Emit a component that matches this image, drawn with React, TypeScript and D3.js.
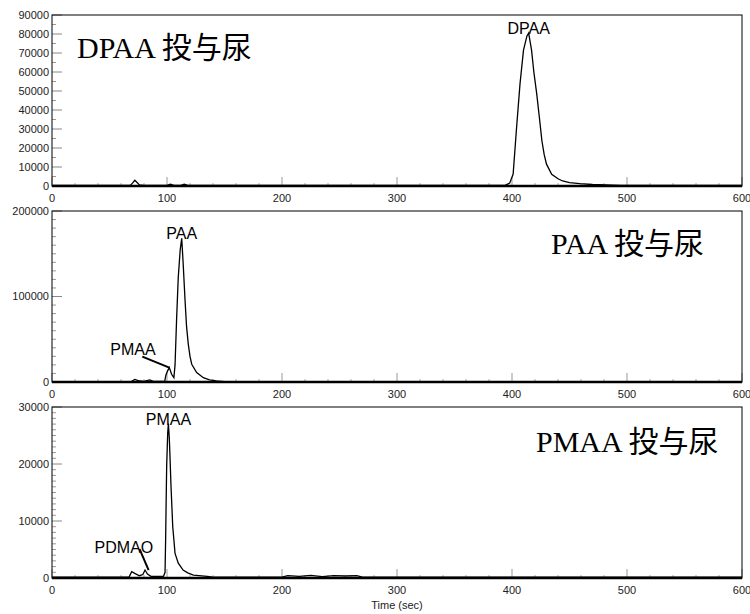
import React from 'react';
import * as d3 from 'd3';

// chromatogram traces: [time (sec), signal]
const dpaaUrine: [number, number][] = [
  [0, 300], [68, 300], [70, 1500], [72, 3000], [74, 1800], [76, 600], [80, 300],
  [100, 300], [103, 900], [106, 300], [112, 300], [115, 1000], [118, 300],
  [394, 300], [398, 1500], [401, 6300], [404, 30900], [407, 54000], [410, 71500],
  [413, 79000], [414.5, 80500], [417, 71500], [419, 60000], [421.5, 48500],
  [424, 35000], [426, 23800], [428, 16500], [430, 11500], [434.5, 6200],
  [440, 3800], [444, 2650], [450, 1800], [459, 1200], [470, 800], [488, 500],
  [495, 300], [600, 300],
];

const paaUrine: [number, number][] = [
  [0, 500], [69, 500], [72, 3000], [75, 1500], [80, 800], [85, 2500], [88, 800],
  [98, 800], [99, 8000], [100.5, 13000], [102, 16800], [104, 9000], [106, 5000],
  [107, 20000], [108.4, 75600], [109.8, 122600], [111.5, 155000], [112.8, 168000],
  [114, 140000], [115.7, 95300], [117, 65000], [118.5, 44300], [120, 30000],
  [121.5, 20800], [125.8, 11000], [131.6, 5000], [137, 2500], [143, 1200],
  [150, 500], [600, 500],
];

const pmaaUrine: [number, number][] = [
  [0, 150], [67, 150], [69.3, 1100], [72, 800], [76, 400], [79, 600], [80.9, 1400],
  [83, 700], [86, 300], [97, 300], [98.3, 1000], [98.8, 6700], [99.7, 19500],
  [100.6, 25400], [101.2, 27100], [102, 24500], [102.6, 21300], [103.5, 16000],
  [105, 9000], [107, 4300], [109.8, 2600], [114, 1400], [118, 900], [123, 520],
  [135, 300], [140, 150], [200, 150], [205, 400], [215, 300], [225, 450],
  [235, 250], [245, 400], [255, 350], [265, 400], [270, 150], [600, 150],
];

const xTicks = [0, 100, 200, 300, 400, 500, 600];
const panelTitles = ['DPAA 投与尿', 'PAA 投与尿', 'PMAA 投与尿'];
const yMaxes = [90000, 200000, 30000];
const yMajorSteps = [10000, 100000, 10000];
const yMinorSteps = [5000, 10000, 1000];

// peak labels: [panel, label, time of the marked point]
const peakLabels: [number, string, number][] = [
  [0, 'DPAA', 414.5],
  [1, 'PAA', 112.8],
  [2, 'PMAA', 101.2],
];
// labels with leader lines: [panel, label, time, value]
const leaderLabels: [number, string, number, number][] = [
  [1, 'PMAA', 102, 16800],
  [2, 'PDMAO', 84, 1400],
];

const traces = [dpaaUrine, paaUrine, pmaaUrine];

const W = 750;
const H = 614;
const left = 52;
const right = 742;
const panelTops = [15, 211, 407];
const panelH = 171;

const tickFont = '"Liberation Sans", Arial, sans-serif';
const titleFont = '"Liberation Serif", "Times New Roman", "Noto Sans CJK JP", serif';

function Panel({ idx }: { idx: number }) {
  const top = panelTops[idx];
  const bottom = top + panelH;
  const x = d3.scaleLinear().domain([0, 600]).range([left, right]);
  const y = d3.scaleLinear().domain([0, yMaxes[idx]]).range([bottom, top]);
  const line = d3.line<[number, number]>().x(d => x(d[0])).y(d => y(d[1]));

  const yMajor = d3.range(0, yMaxes[idx] + 1, yMajorSteps[idx]);
  const yMinor = d3.range(0, yMaxes[idx] + 1, yMinorSteps[idx]).filter(v => !yMajor.includes(v));
  const xMinor = d3.range(0, 601, 20).filter(v => !xTicks.includes(v));

  const titleX = idx === 0 ? 77 : idx === 1 ? 551 : 536;
  const titleY = idx === 0 ? 58 : idx === 1 ? 254 : 452;

  return (
    <g>
      {yMinor.map(v => (
        <line key={'ym' + v} x1={left} x2={left + 4} y1={y(v)} y2={y(v)} stroke="#999" strokeWidth={1} />
      ))}
      {yMajor.map(v => (
        <g key={'yM' + v}>
          <line x1={left} x2={left + 10} y1={y(v)} y2={y(v)} stroke="#888" strokeWidth={1} />
          <text x={left - 3} y={y(v)} dy="0.35em" textAnchor="end" fontFamily={tickFont} fontSize={11} fill="#222">
            {v}
          </text>
        </g>
      ))}
      {xMinor.map(v => (
        <line key={'xm' + v} x1={x(v)} x2={x(v)} y1={bottom} y2={bottom - 3} stroke="#aaa" strokeWidth={1} />
      ))}
      {xTicks.map(v => (
        <g key={'xM' + v}>
          <line x1={x(v)} x2={x(v)} y1={bottom} y2={bottom - 9} stroke="#999" strokeWidth={1} />
          <text x={x(v)} y={bottom + 16} textAnchor="middle" fontFamily={tickFont} fontSize={11} fill="#222">
            {v}
          </text>
        </g>
      ))}
      <path d={line(traces[idx]) || ''} fill="none" stroke="#000" strokeWidth={1.3} />
      <rect x={left} y={top} width={right - left} height={panelH} fill="none" stroke="#000" strokeWidth={1} />
      <line x1={left} x2={right} y1={bottom} y2={bottom} stroke="#000" strokeWidth={2.5} />
      {peakLabels.filter(p => p[0] === idx).map(([, label, t]) => {
        const pt = traces[idx].find(d => d[0] === t)!;
        return (
          <text key={label} x={x(t)} y={y(pt[1]) + 1} textAnchor="middle" fontFamily={tickFont} fontSize={16} fill="#000">
            {label}
          </text>
        );
      })}
      {leaderLabels.filter(p => p[0] === idx).map(([, label, t, v]) => {
        const px = x(t);
        const py = y(v);
        const tx = idx === 1 ? px - 59 : px - 54;
        const ty = idx === 1 ? py - 13 : py - 17;
        const lx = idx === 1 ? px - 27 : px - 9;
        const ly = idx === 1 ? py - 11 : py - 21;
        return (
          <g key={label}>
            <text x={tx} y={ty} fontFamily={tickFont} fontSize={16} fill="#000">{label}</text>
            <line x1={lx} y1={ly} x2={px} y2={py} stroke="#000" strokeWidth={2} />
          </g>
        );
      })}
      <text x={titleX} y={titleY} fontFamily={titleFont} fontSize={30} fill="#000">
        {panelTitles[idx]}
      </text>
    </g>
  );
}

export default function App() {
  return (
    <svg width={W} height={H} style={{ position: 'absolute', left: 0, top: 0, background: '#fff' }}>
      <rect width={W} height={H} fill="#fff" />
      {[0, 1, 2].map(i => <Panel key={i} idx={i} />)}
      <text x={(left + right) / 2} y={609} textAnchor="middle" fontFamily={tickFont} fontSize={11} fill="#222">
        Time (sec)
      </text>
    </svg>
  );
}
